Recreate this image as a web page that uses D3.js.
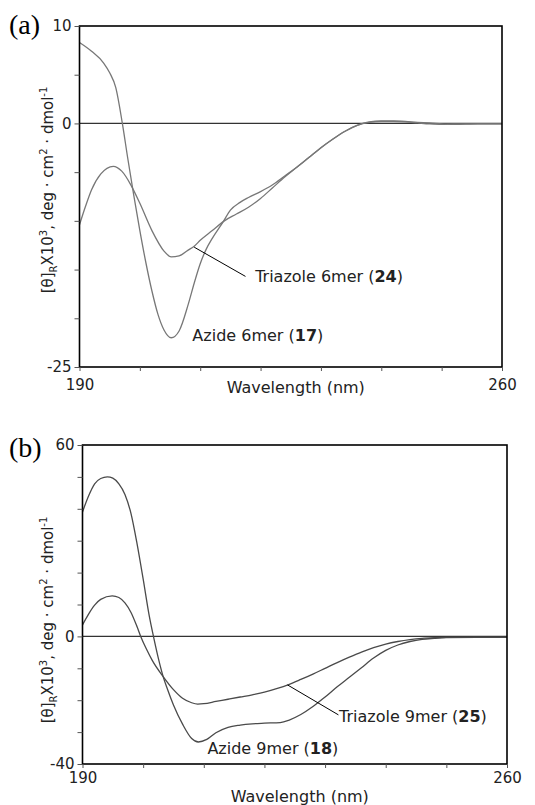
<!DOCTYPE html>
<html>
<head>
<meta charset="utf-8">
<script src="https://cdn.jsdelivr.net/npm/d3@7"></script>
<style>
  body { margin: 0; background: #fff; }
  svg { display: block; }
</style>
</head>
<body>
<div id="chart-area"></div>
<script>
// Wavelength ticks (nm)
const xTicks = [190, 200, 210, 220, 230, 240, 250, 260]
const xTickLabels = [190, 260]

// Panel (a) - 6mer
const yTicksA = [10, 5, 0, -5, -10, -15, -20, -25]
const yTickLabelsA = [10, 0, -25]
const azide6 = [[190, 8.3], [192, 7.4], [194, 6.2], [195, 5.2], [196, 3.7], [197.1, 0], [198, -3.6],
  [199, -7.4], [200, -11], [201, -14.3], [202, -17.2], [203, -19.6], [204, -21.2], [205.2, -22],
  [206.5, -21.3], [208, -18.6], [209, -16.4], [210, -14.4], [211, -12.9], [212, -11.8], [213.8, -10.1],
  [215, -8.9], [216.6, -8.1], [218, -7.6], [220, -7.0], [222, -6.3], [224, -5.4], [226, -4.5],
  [228, -3.5], [230, -2.5], [232, -1.6], [234, -0.8], [236, -0.2], [238, 0.15], [240, 0.25],
  [242, 0.25], [244, 0.2], [246, 0.1], [248, 0.05], [250, -0.05], [252, -0.1], [256, -0.05], [260, -0.05]]
const triazole6 = [[190, -10.4], [191, -8.5], [192, -6.8], [193.5, -5.2], [195.6, -4.4], [197, -4.9],
  [198.5, -6.3], [200, -8.2], [202, -11.0], [204, -13.1], [205.2, -13.7], [206.5, -13.6], [208, -13.0],
  [209, -12.6], [210, -12.0], [212, -11.0], [214, -10.0], [216, -9.3], [218, -8.6], [220, -7.7],
  [222, -6.6], [224, -5.5], [226, -4.5], [228, -3.5], [230, -2.5], [232, -1.6], [234, -0.8],
  [236, -0.2], [238, 0.1], [240, 0.2], [242, 0.2], [244, 0.15], [246, 0.05], [248, -0.05],
  [250, -0.1], [252, -0.05], [256, -0.05], [260, -0.05]]

// Panel (b) - 9mer
const yTicksB = [60, 50, 40, 30, 20, 10, 0, -10, -20, -30, -40]
const yTickLabelsB = [60, 0, -40]
const azide9 = [[190, 39], [191, 44], [192, 47.8], [193, 49.5], [194.1, 50], [195, 49.6], [196, 47.8],
  [197, 44.5], [198, 38.5], [199, 29], [200, 18], [201, 6.5], [201.7, 0], [202.5, -6.8], [203.3, -12.6],
  [204, -16.5], [205, -21.5], [206.5, -27.5], [208, -32], [209.1, -33.1], [210.5, -32.3], [212, -30.2],
  [214, -28.5], [216, -27.8], [218, -27.4], [220, -27.2], [222.6, -27.0], [224, -26.3], [226, -24.5],
  [228, -22], [230, -19], [232, -15.8], [234, -12.8], [236, -9.8], [238, -6.8], [240, -4.4],
  [242, -2.7], [244, -1.6], [246, -0.9], [248, -0.6], [250, -0.4], [255, -0.3], [260, -0.3]]
const triazole9 = [[190, 3.6], [191, 7], [192, 9.8], [193, 11.6], [194.9, 12.7], [196, 12.2], [197, 10.5],
  [198, 7.5], [199, 3], [199.6, 0], [200.5, -3.8], [201.5, -7.5], [203.3, -12.6], [205, -16.7],
  [206.5, -19.4], [208, -20.8], [209, -21.2], [210, -21.1], [212, -20.4], [214, -19.7], [216, -19.0],
  [218, -18.3], [220, -17.5], [222, -16.4], [224, -15.1], [226, -13.5], [228, -11.8], [230, -10.0],
  [232, -8.2], [234, -6.5], [236, -4.9], [238, -3.5], [240, -2.4], [242, -1.6], [244, -1.0],
  [246, -0.6], [248, -0.4], [250, -0.3], [255, -0.3], [260, -0.3]]

const svg = d3.select("#chart-area").append("svg")
  .attr("width", 535)
  .attr("height", 805)

const FONT = "DejaVu Sans, Arial, sans-serif"

function drawPanel(p) {
  const x = d3.scaleLinear().domain([190, 260]).range([p.left, p.right])
  const y = d3.scaleLinear().domain(p.yDomain).range([p.top, p.bottom])

  // panel letter
  svg.append("text")
    .attr("x", 9).attr("y", p.letterY)
    .attr("font-family", "Liberation Serif, Times New Roman, serif")
    .attr("font-size", "28px")
    .text(p.letter)

  // zero line
  svg.append("line")
    .attr("x1", x(190)).attr("x2", x(260))
    .attr("y1", y(0)).attr("y2", y(0))
    .attr("stroke", "#333").attr("stroke-width", 1.2)

  // curves
  const line = d3.line()
    .x(d => x(d[0]))
    .y(d => y(d[1]))
    .curve(d3.curveMonotoneX)
  p.series.forEach(s => {
    svg.append("path")
      .attr("d", line(s))
      .attr("fill", "none")
      .attr("stroke", p.color)
      .attr("stroke-width", 1.3)
  })

  // box
  svg.append("rect")
    .attr("x", p.left).attr("y", p.top)
    .attr("width", p.right - p.left).attr("height", p.bottom - p.top)
    .attr("fill", "none").attr("stroke", "#000").attr("stroke-width", 1.6)

  // y axis
  const yAxis = svg.append("g")
    .attr("transform", `translate(${p.left}, 0)`)
    .call(d3.axisLeft(y).tickValues(p.yTicks).tickSize(5).tickPadding(3)
      .tickFormat(d => p.yLabels.includes(d) ? String(d) : ""))
  yAxis.select(".domain").remove()
  yAxis.selectAll("line").attr("stroke", "#555")
  yAxis.selectAll("text").attr("font-family", FONT).attr("font-size", "15px").attr("fill", "#222")

  // x axis
  const xAxis = svg.append("g")
    .attr("transform", `translate(0, ${p.bottom})`)
    .call(d3.axisBottom(x).tickValues(xTicks).tickSize(4).tickPadding(p.xPad)
      .tickFormat(d => xTickLabels.includes(d) ? String(d) : ""))
  xAxis.select(".domain").remove()
  xAxis.selectAll("line").attr("stroke", "#555")
  xAxis.selectAll("text").attr("font-family", FONT).attr("font-size", "15px").attr("fill", "#222")

  // x label
  svg.append("text")
    .attr("x", (p.left + p.right) / 2 + 5)
    .attr("y", p.bottom + p.xLabelDy)
    .attr("text-anchor", "middle")
    .attr("font-family", FONT).attr("font-size", "16px").attr("fill", "#222")
    .text("Wavelength (nm)")

  // y label
  const yl = svg.append("text")
    .attr("transform", `translate(${p.yLabelX}, ${p.yLabelY}) rotate(-90)`)
    .attr("text-anchor", "middle")
    .attr("font-family", FONT).attr("font-size", "15px").attr("fill", "#222")
  yl.append("tspan").text("[θ]")
  yl.append("tspan").attr("font-size", "10px").attr("dy", 4).text("R")
  yl.append("tspan").attr("dy", -4).text("X10")
  yl.append("tspan").attr("font-size", "10px").attr("dy", -6).text("3")
  yl.append("tspan").attr("dy", 6).text(", deg · cm")
  yl.append("tspan").attr("font-size", "10px").attr("dy", -6).text("2")
  yl.append("tspan").attr("dy", 6).text(" · dmol")
  yl.append("tspan").attr("font-size", "10px").attr("dy", -6).text("-1")

  // annotations
  p.notes.forEach(n => {
    if (n.from) {
      svg.append("line")
        .attr("x1", x(n.from[0])).attr("y1", y(n.from[1]))
        .attr("x2", x(n.to[0])).attr("y2", y(n.to[1]))
        .attr("stroke", "#000").attr("stroke-width", 1)
    }
    const t = svg.append("text")
      .attr("x", x(n.at[0])).attr("y", y(n.at[1]))
      .attr("dy", "0.35em")
      .attr("font-family", FONT).attr("font-size", "16px").attr("fill", "#222")
    t.append("tspan").text(n.text + " (")
    t.append("tspan").attr("font-weight", "bold").text(n.num)
    t.append("tspan").text(")")
  })
}

drawPanel({
  letter: "(a)", letterY: 34,
  left: 79.5, right: 502, top: 26, bottom: 367,
  yDomain: [10, -25], yTicks: yTicksA, yLabels: yTickLabelsA,
  series: [azide6, triazole6], color: "#777",
  xPad: 8, xLabelDy: 26, yLabelX: 53, yLabelY: 190,
  notes: [
    { from: [209, -12.7], to: [217.5, -15.7], at: [219.1, -15.7], text: "Triazole 6mer", num: "24" },
    { at: [208.7, -21.8], text: "Azide 6mer", num: "17" }
  ]
})

drawPanel({
  letter: "(b)", letterY: 457,
  left: 82.5, right: 507, top: 445, bottom: 764,
  yDomain: [60, -40], yTicks: yTicksB, yLabels: yTickLabelsB,
  series: [azide9, triazole9], color: "#4a4a4a",
  xPad: 4, xLabelDy: 38, yLabelX: 53, yLabelY: 620,
  notes: [
    { from: [223.8, -15.2], to: [232.2, -24.6], at: [232.3, -25.2], text: "Triazole 9mer", num: "25" },
    { at: [210.6, -35], text: "Azide 9mer", num: "18" }
  ]
})
</script>
</body>
</html>
